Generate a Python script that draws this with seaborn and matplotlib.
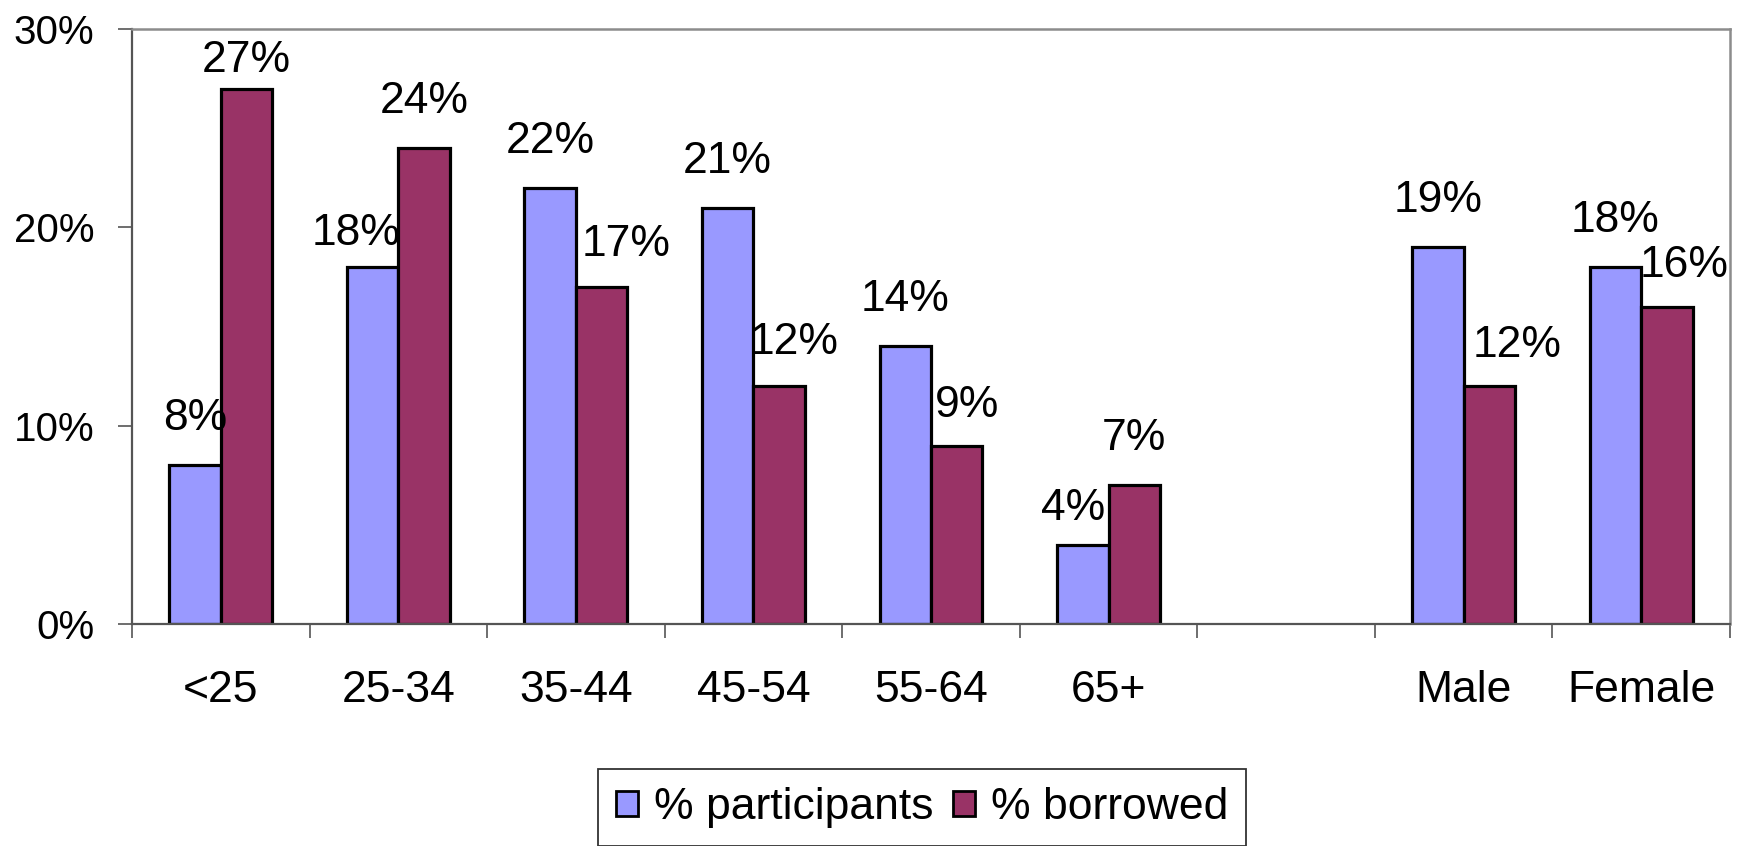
import matplotlib
matplotlib.use("Agg")
import matplotlib.pyplot as plt
from matplotlib.patches import Patch
from matplotlib.ticker import FixedLocator
import pandas as pd
import seaborn as sns

# Survey breakdown by age band and by sex
categories = ["<25", "25-34", "35-44", "45-54", "55-64", "65+", "Male", "Female"]
participants = [8, 18, 22, 21, 14, 4, 19, 18]
borrowed = [27, 24, 17, 12, 9, 7, 12, 16]
series_names = ["% participants", "% borrowed"]
y_ticks = [0, 10, 20, 30]

# Slot order on the axis; the blank slot separates age bands from sex
slot_order = ["<25", "25-34", "35-44", "45-54", "55-64", "65+", " ", "Male", "Female"]

colors = {"% participants": "#9999FF", "% borrowed": "#993366"}

df = pd.DataFrame({
    "group": categories * 2,
    "series": [series_names[0]] * len(categories) + [series_names[1]] * len(categories),
    "value": participants + borrowed,
})

# Small nudges (pixels) so value labels clear neighbouring bars
label_nudge = {
    ("% borrowed", "<25"): (0, -18),
    ("% participants", "25-34"): (-17, -13),
    ("% borrowed", "35-44"): (24, -4),
    ("% borrowed", "45-54"): (15, -3),
    ("% borrowed", "55-64"): (10, -6),
    ("% participants", "65+"): (-10, -10),
    ("% borrowed", "Male"): (28, -6),
    ("% borrowed", "Female"): (17, -5),
}

FS = 32
FS_Y = 29

sns.set_theme(style="white")
plt.rcParams["font.family"] = ["Liberation Sans", "DejaVu Sans"]
plt.rcParams["text.color"] = "black"
plt.rcParams["xtick.color"] = "black"
plt.rcParams["ytick.color"] = "black"

fig = plt.figure(figsize=(17.41, 8.46), dpi=100)
ax = fig.add_axes([132 / 1741, 1 - 624 / 846, (1730 - 132) / 1741, (624 - 29) / 846])

sns.barplot(
    data=df, x="group", y="value", hue="series", order=slot_order,
    hue_order=series_names, palette=colors, width=0.58, dodge=True,
    edgecolor="black", linewidth=2.3, saturation=1, legend=False, ax=ax,
)

ax.set_xlim(-0.5, len(slot_order) - 0.5)
ax.set_ylim(0, 30)
ax.set_yticks(y_ticks)
ax.set_yticklabels([f"{t}%" for t in y_ticks])
ax.set_xlabel("")
ax.set_ylabel("")

# Category ticks between slots, labels centred in each slot
ax.xaxis.set_minor_locator(FixedLocator([i - 0.5 for i in range(len(slot_order) + 1)]))
ax.tick_params(axis="x", which="major", length=0, pad=33, labelsize=FS, labelcolor="black")
ax.tick_params(axis="x", which="minor", length=10, width=1.2, color="#555555", direction="out", bottom=True)
ax.tick_params(axis="y", which="major", length=10, width=1.2, color="#555555", direction="out",
               left=True, pad=17, labelsize=FS_Y, labelcolor="black")

for side in ["left", "bottom"]:
    ax.spines[side].set_color("#555555")
    ax.spines[side].set_linewidth(1.6)
for side in ["top", "right"]:
    ax.spines[side].set_color("#8c8c8c")
    ax.spines[side].set_linewidth(1.8)
    ax.spines[side].set_visible(True)

# Value labels above each bar
for name, container in zip(series_names, ax.containers):
    for bar in container:
        h = bar.get_height()
        xc = bar.get_x() + bar.get_width() / 2
        group = slot_order[int(round(xc))]
        dx, dy = label_nudge.get((name, group), (0, 0))
        ax.annotate(f"{h:.0f}%", xy=(xc, h), xytext=(dx, 35 + dy),
                    textcoords="offset pixels", ha="center", va="baseline",
                    fontsize=FS, color="black", annotation_clip=False)

handles = [Patch(facecolor=colors[n], edgecolor="black", linewidth=2) for n in series_names]
leg = fig.legend(
    handles, series_names, loc="lower center", bbox_to_anchor=(922 / 1741, 0.0),
    ncol=2, fontsize=FS, frameon=True, fancybox=False, edgecolor="black",
    handlelength=0.5, handleheight=0.5, handletextpad=0.35, columnspacing=0.45,
    borderpad=0.4, borderaxespad=0.0, labelcolor="black",
)
leg.get_frame().set_linewidth(1.3)

fig.savefig("out.png", dpi=100, facecolor="white")
